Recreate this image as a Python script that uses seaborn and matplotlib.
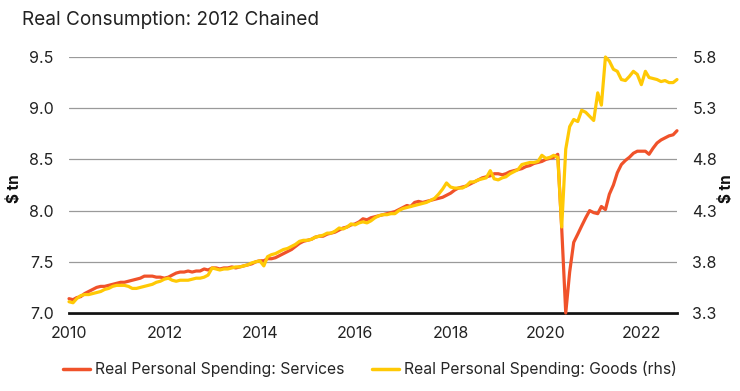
import numpy as np
import pandas as pd
import matplotlib
matplotlib.use("Agg")
import matplotlib.pyplot as plt
import seaborn as sns
from matplotlib.lines import Line2D

# ---- data (monthly, Jan 2010 onward) ----
services = [
    7.14, 7.13, 7.15, 7.16, 7.19, 7.21, 7.23, 7.25, 7.26, 7.26,
    7.27, 7.28, 7.29, 7.30, 7.30, 7.31, 7.32, 7.33, 7.34, 7.36,
    7.36, 7.36, 7.35, 7.35, 7.34, 7.35, 7.37, 7.39, 7.40, 7.40,
    7.41, 7.40, 7.41, 7.41, 7.43, 7.42, 7.44, 7.44, 7.43, 7.44,
    7.44, 7.45, 7.44, 7.45, 7.46, 7.47, 7.48, 7.50, 7.51, 7.51,
    7.53, 7.53, 7.54, 7.56, 7.58, 7.60, 7.62, 7.65, 7.68, 7.70,
    7.71, 7.72, 7.74, 7.75, 7.75, 7.77, 7.78, 7.79, 7.81, 7.83,
    7.84, 7.86, 7.87, 7.89, 7.92, 7.91, 7.93, 7.94, 7.95, 7.96,
    7.97, 7.98, 7.99, 8.01, 8.03, 8.05, 8.04, 8.08, 8.09, 8.08,
    8.09, 8.10, 8.11, 8.12, 8.13, 8.15, 8.17, 8.20, 8.22, 8.23,
    8.24, 8.26, 8.28, 8.30, 8.32, 8.33, 8.34, 8.36, 8.36, 8.35,
    8.36, 8.38, 8.39, 8.40, 8.41, 8.43, 8.44, 8.46, 8.47, 8.48,
    8.50, 8.51, 8.52, 8.55, 7.83, 7.00, 7.40, 7.69, 7.77, 7.85,
    7.93, 8.00, 7.98, 7.97, 8.04, 8.01, 8.16, 8.25, 8.37, 8.45,
    8.49, 8.52, 8.56, 8.58, 8.58, 8.58, 8.55, 8.61, 8.66, 8.69,
    8.71, 8.73, 8.74, 8.78,
]
goods = [
    3.41, 3.40, 3.44, 3.47, 3.48, 3.48, 3.49, 3.50, 3.51, 3.53,
    3.54, 3.56, 3.57, 3.57, 3.57, 3.56, 3.54, 3.54, 3.55, 3.56,
    3.57, 3.58, 3.60, 3.61, 3.63, 3.64, 3.62, 3.61, 3.62, 3.62,
    3.62, 3.63, 3.64, 3.64, 3.65, 3.67, 3.74, 3.73, 3.72, 3.73,
    3.73, 3.74, 3.75, 3.75, 3.76, 3.77, 3.79, 3.80, 3.81, 3.76,
    3.85, 3.87, 3.88, 3.90, 3.92, 3.93, 3.95, 3.97, 4.00, 4.01,
    4.01, 4.02, 4.04, 4.05, 4.06, 4.08, 4.08, 4.10, 4.13, 4.12,
    4.14, 4.17, 4.16, 4.18, 4.19, 4.18, 4.20, 4.23, 4.25, 4.26,
    4.26, 4.27, 4.27, 4.30, 4.32, 4.33, 4.34, 4.35, 4.36, 4.37,
    4.38, 4.40, 4.42, 4.46, 4.51, 4.57, 4.53, 4.52, 4.52, 4.52,
    4.54, 4.58, 4.58, 4.60, 4.61, 4.62, 4.69, 4.61, 4.60, 4.62,
    4.63, 4.66, 4.68, 4.70, 4.75, 4.76, 4.77, 4.77, 4.78, 4.84,
    4.81, 4.82, 4.84, 4.82, 4.14, 4.90, 5.12, 5.19, 5.17, 5.28,
    5.26, 5.22, 5.18, 5.45, 5.33, 5.80, 5.76, 5.68, 5.66, 5.58,
    5.57, 5.61, 5.66, 5.63, 5.53, 5.66, 5.60, 5.59, 5.58, 5.56,
    5.57, 5.55, 5.55, 5.58,
]
start_month = "2010-01-01"
left_ticks = [7.0, 7.5, 8.0, 8.5, 9.0, 9.5]
right_ticks = [3.3, 3.8, 4.3, 4.8, 5.3, 5.8]
tick_years = [2010, 2012, 2014, 2016, 2018, 2020, 2022]
title = "Real Consumption: 2012 Chained"
label_services = "Real Personal Spending: Services"
label_goods = "Real Personal Spending: Goods (rhs)"

RED = "#F0522A"
YELLOW = "#FFC905"

dates = pd.date_range(start_month, periods=len(services), freq="MS")
df = pd.DataFrame({"date": dates, "services": services, "goods": goods})

sns.set_theme(style="white")
plt.rcParams["font.family"] = ["Inter", "DejaVu Sans"]

fig = plt.figure(figsize=(7.40, 3.91), dpi=100)
ax = fig.add_axes([69 / 740, 1 - 313 / 391, (677 - 69) / 740, (313 - 57) / 391])
ax2 = ax.twinx()

sns.lineplot(data=df, x="date", y="services", ax=ax, color=RED, linewidth=2.3,
             clip_on=False, legend=False)
sns.lineplot(data=df, x="date", y="goods", ax=ax2, color=YELLOW, linewidth=2.3,
             clip_on=False, legend=False)

ax.set_xlim(pd.Timestamp("2010-01-01"), pd.Timestamp("2022-10-01"))
ax.set_ylim(left_ticks[0], left_ticks[-1])
ax2.set_ylim(right_ticks[0], right_ticks[-1])
ax.set_yticks(left_ticks)
ax.set_yticklabels([f"{v:.1f}" for v in left_ticks])
ax2.set_yticks(right_ticks)
ax2.set_yticklabels([f"{v:.1f}" for v in right_ticks])
ax.set_xticks([pd.Timestamp(f"{y}-01-01") for y in tick_years])
ax.set_xticklabels([str(y) for y in tick_years])

ax.grid(axis="y", color="#9a9a9a", linewidth=0.9)
ax.grid(axis="x", visible=False)
ax2.grid(False)
for a in (ax, ax2):
    for s in ("top", "left", "right", "bottom"):
        a.spines[s].set_visible(False)
    a.set_xlabel("")
    a.set_ylabel("")
ax.spines["bottom"].set_visible(True)
ax.spines["bottom"].set_color("#111111")
ax.spines["bottom"].set_linewidth(2.0)
ax.spines["bottom"].set_zorder(0.5)

ax.tick_params(axis="both", length=0, labelsize=11.5, colors="#222222")
ax.tick_params(axis="y", pad=11)
ax.tick_params(axis="x", pad=9)
ax2.tick_params(axis="y", length=0, labelsize=11.5, colors="#222222", pad=11)

fig.text(22 / 740, 1 - 20 / 391, title, ha="left", va="center", fontsize=13.7,
         color="#222222")
fig.text(15 / 740, 1 - 189 / 391, "$ tn", rotation=90, ha="center", va="center",
         fontsize=11, fontweight="bold", color="#111111")
fig.text(727 / 740, 1 - 189 / 391, "$ tn", rotation=90, ha="center", va="center",
         fontsize=11, fontweight="bold", color="#111111")

handles = [Line2D([], [], color=RED, linewidth=2.5),
           Line2D([], [], color=YELLOW, linewidth=2.5)]
fig.legend(handles, [label_services, label_goods], loc="center",
           bbox_to_anchor=(0.5, 1 - 369 / 391), ncol=2, frameon=False,
           fontsize=11.3, handlelength=1.7, handletextpad=0.3, columnspacing=1.8)

fig.savefig("out.png", dpi=100)
